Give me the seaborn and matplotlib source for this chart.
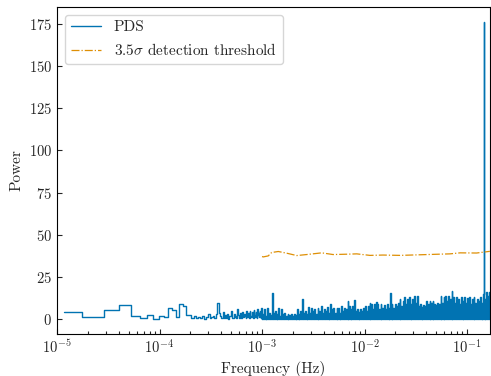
import numpy as np
import matplotlib.pyplot as plt
import seaborn as sns

# frequency resolution of the PDS (Hz) and low-frequency bin powers
freq_res = 1.16e-5
low_power = [4.4, 1.6, 5.6, 8.4, 2.0, 0.6, 2.8, 0.4, 2.2, 1.4,
             6.5, 5.8, 1.5, 9.4, 8.2, 2.4, 2.6, 1.0, 1.8, 0.9,
             1.6, 0.7, 2.2, 0.5, 1.4, 3.0, 0.8, 1.2, 2.0, 0.6,
             3.5, 10.0, 4.0, 2.2, 1.0, 4.6, 0.8, 2.4, 1.1, 3.2,
             0.5, 1.8, 5.2, 1.0, 0.6, 3.4, 1.4, 2.0, 0.7, 6.0,
             2.5, 1.0, 3.8, 0.9, 1.6, 4.4, 1.2, 3.0, 2.2, 0.6,
             4.8, 1.4, 2.6, 3.6, 1.0, 5.0, 2.0, 1.2, 3.4, 4.2,
             0.8, 5.4, 2.8, 1.6, 4.4, 3.0, 0.9, 6.2, 2.4, 3.8,
             1.5, 5.2, 4.0, 1.0, 6.6, 2.6]

# dense part (1e-3 Hz up to Nyquist): local maxima read across the plot
high_start, high_stop = 1.0e-3, 0.1667
high_peaks = [3, 6, 2, 7, 4, 2.5, 15.4,
              4, 5, 3, 6.6, 2, 6, 3, 4, 2, 3.4, 2.5,
              3, 2, 3.5, 2.5, 6, 3, 5, 12, 4,
              5, 3, 7.4, 4, 7, 5, 6, 3.5, 7,
              5, 8, 4, 6, 5, 7.5, 4, 9.4, 6, 7, 4, 6.5,
              7, 4, 8, 5, 7, 6, 11, 8, 6, 8, 11.6,
              5, 6, 4.5, 6, 5, 6.5, 8, 5, 8, 10, 9, 6, 9, 10.6,
              9, 6, 9, 7, 8.5, 6, 9, 7, 15.4,
              9, 7, 9, 8, 9.5, 12, 8, 11, 13, 9, 12,
              13, 9, 12, 14, 10, 14, 8, 9, 7.5, 8.5, 8,
              11, 9, 11, 10, 11, 9, 8.5, 9.5, 9,
              14, 10, 13, 14, 11, 14, 12, 16.6,
              13, 10, 13, 12, 9, 13, 11, 13, 10, 12.5, 13, 9, 12, 13, 10, 12,
              11, 13, 10, 15, 12, 16.4, 14, 16]
trough_power = 0.2
spike_freq = 0.146
spike_power = 176.0

# 3.5 sigma detection threshold
thr_freq = [1.0e-3, 1.03e-3, 1.15e-3, 1.24e-3, 1.44e-3, 1.74e-3, 2.18e-3, 2.73e-3,
            3.82e-3, 4.93e-3, 6.70e-3, 8.39e-3, 1.13e-2, 1.51e-2, 2.22e-2,
            3.23e-2, 4.66e-2, 6.82e-2, 8.55e-2, 0.124, 0.1667]
thr_power = [37.2, 37.0, 37.6, 39.6, 40.2, 39.2, 37.8, 38.4,
             39.4, 38.4, 38.6, 38.8, 37.9, 38.1, 37.9,
             38.2, 38.5, 38.8, 39.4, 39.3, 40.3]

low_freq = freq_res * np.arange(1, len(low_power) + 1)
high_freq = np.geomspace(high_start, high_stop, 2 * len(high_peaks))
high_power = np.empty(2 * len(high_peaks))
high_power[0::2] = trough_power
high_power[1::2] = high_peaks

freq = np.concatenate([low_freq, high_freq, [spike_freq]])
power = np.concatenate([low_power, high_power, [spike_power]])
order = np.argsort(freq)
freq, power = freq[order], power[order]

sns.set_theme(style="ticks", palette="colorblind")
plt.rcParams["font.family"] = ["cmr10"]
plt.rcParams["mathtext.fontset"] = "cm"
plt.rcParams["axes.formatter.use_mathtext"] = True
pal = sns.color_palette("colorblind")

fig = plt.figure(figsize=(4.91, 3.76), dpi=100)
ax = fig.add_axes([0.1161, 0.1117, 0.8819, 0.8697])
sns.lineplot(x=freq, y=power, drawstyle="steps-mid", color=pal[0], lw=1.0,
             estimator=None, label="PDS", ax=ax)
sns.lineplot(x=thr_freq, y=thr_power, color=pal[1], ls="-.", lw=0.9,
             estimator=None, label=r"3.5$\sigma$ detection threshold", ax=ax)
ax.set_xscale("log")
ax.set_xlim(1e-5, 0.1675)
ax.set_yticks([0, 25, 50, 75, 100, 125, 150, 175])
ax.tick_params(which="both", direction="in", labelsize=10.5, width=0.8)
ax.tick_params(which="major", length=3.5)
ax.tick_params(which="minor", length=2)
ax.set_xlabel("Frequency (Hz)", fontsize=11, labelpad=3)
ax.set_ylabel("Power", fontsize=11)
ax.legend(loc="upper left", fontsize=11)
for s in ax.spines.values():
    s.set_color("black")
    s.set_linewidth(0.8)
fig.savefig("out.png", dpi=100)
